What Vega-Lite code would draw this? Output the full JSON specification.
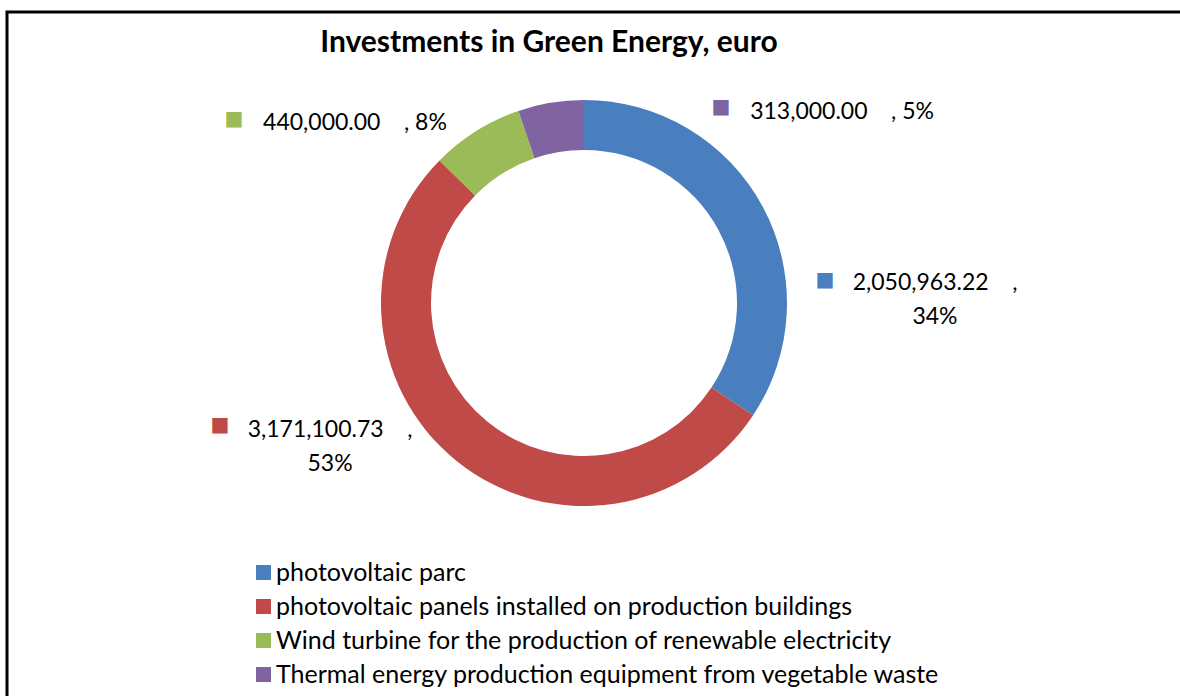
{
  "$schema": "https://vega.github.io/schema/vega-lite/v6.json",
  "width": 1177,
  "height": 688,
  "autosize": "none",
  "padding": {"left": 7, "top": 12, "right": -4, "bottom": -4},
  "background": "white",
  "data": {
    "values": [
      {"idx": 1, "category": "\u00a0\u00a0photovoltaic parc", "amount": 2050963.22, "label": "2,050,963.22\u00a0\u00a0\u00a0\u00a0,\n34%"},
      {"idx": 2, "category": "\u00a0\u00a0photovoltaic panels installed on production buildings", "amount": 3171100.73, "label": "3,171,100.73\u00a0\u00a0\u00a0\u00a0,\n53%"},
      {"idx": 3, "category": "Wind turbine for the production of renewable electricity", "amount": 440000.00, "label": "440,000.00\u00a0\u00a0\u00a0\u00a0, 8%"},
      {"idx": 4, "category": "Thermal energy production equipment from vegetable waste", "amount": 313000.00, "label": "313,000.00\u00a0\u00a0\u00a0\u00a0, 5%"}
    ]
  },
  "layer": [
    {
      "data": {"values": [{"frame": 1}]},
      "mark": {"type": "rect", "fill": null, "stroke": "black", "strokeWidth": 3},
      "encoding": {}
    },
    {
      "data": {"values": [{"title": "Investments in Green Energy, euro"}]},
      "mark": {"type": "text", "font": "Lato", "fontSize": 30, "fontWeight": "bold", "color": "black", "align": "center", "baseline": "alphabetic", "dx": -46.5, "dy": -304},
      "encoding": {"text": {"field": "title", "type": "nominal"}}
    },
    {
      "mark": {"type": "arc", "outerRadius": 203, "innerRadius": 153, "xOffset": -11.5, "yOffset": -53},
      "encoding": {
        "theta": {"field": "amount", "type": "quantitative", "stack": true},
        "order": {"field": "idx", "type": "quantitative"},
        "color": {
          "field": "category",
          "type": "nominal",
          "sort": null,
          "scale": {
            "domain": ["\u00a0\u00a0photovoltaic parc", "\u00a0\u00a0photovoltaic panels installed on production buildings", "Wind turbine for the production of renewable electricity", "Thermal energy production equipment from vegetable waste"],
            "range": ["#4a7fbf", "#bf4a47", "#9bbb59", "#8064a2"]
          },
          "legend": {"symbolType": "square"}
        }
      }
    },
    {
      "mark": {"type": "text", "font": "Lato", "fontSize": 23, "color": "black", "radius": 250, "lineBreak": "\n", "lineHeight": 34, "align": "center", "baseline": "middle", "xOffset": -11.5, "yOffset": -53, "dx": 130.7, "dy": 98},
      "encoding": {
        "theta": {"field": "amount", "type": "quantitative", "stack": true},
        "order": {"field": "idx", "type": "quantitative"},
        "text": {"condition": {"test": "datum.idx === 1", "field": "label"}, "value": ""}
      }
    },
    {
      "mark": {"type": "text", "font": "Lato", "fontSize": 23, "color": "black", "radius": 250, "lineBreak": "\n", "lineHeight": 34, "align": "center", "baseline": "middle", "xOffset": -11.5, "yOffset": -53, "dx": -96.3, "dy": -67.5},
      "encoding": {
        "theta": {"field": "amount", "type": "quantitative", "stack": true},
        "order": {"field": "idx", "type": "quantitative"},
        "text": {"condition": {"test": "datum.idx === 2", "field": "label"}, "value": ""}
      }
    },
    {
      "mark": {"type": "text", "font": "Lato", "fontSize": 23, "color": "black", "radius": 250, "lineBreak": "\n", "lineHeight": 34, "align": "center", "baseline": "middle", "xOffset": -11.5, "yOffset": -53, "dx": -96.1, "dy": 31.5},
      "encoding": {
        "theta": {"field": "amount", "type": "quantitative", "stack": true},
        "order": {"field": "idx", "type": "quantitative"},
        "text": {"condition": {"test": "datum.idx === 3", "field": "label"}, "value": ""}
      }
    },
    {
      "mark": {"type": "text", "font": "Lato", "fontSize": 23, "color": "black", "radius": 250, "lineBreak": "\n", "lineHeight": 34, "align": "center", "baseline": "middle", "xOffset": -11.5, "yOffset": -53, "dx": 299, "dy": 55.5},
      "encoding": {
        "theta": {"field": "amount", "type": "quantitative", "stack": true},
        "order": {"field": "idx", "type": "quantitative"},
        "text": {"condition": {"test": "datum.idx === 4", "field": "label"}, "value": ""}
      }
    },
    {
      "mark": {"type": "text", "font": "DejaVu Sans", "fontSize": 20, "radius": 250, "align": "center", "baseline": "middle", "xOffset": -11.5, "yOffset": -53, "dx": 20.7, "dy": 95.1},
      "encoding": {
        "theta": {"field": "amount", "type": "quantitative", "stack": true},
        "order": {"field": "idx", "type": "quantitative"},
        "color": {"field": "category", "type": "nominal", "sort": null},
        "text": {"condition": {"test": "datum.idx === 1", "value": "\u25a0"}, "value": ""}
      }
    },
    {
      "mark": {"type": "text", "font": "DejaVu Sans", "fontSize": 20, "radius": 250, "align": "center", "baseline": "middle", "xOffset": -11.5, "yOffset": -53, "dx": -206.3, "dy": -72},
      "encoding": {
        "theta": {"field": "amount", "type": "quantitative", "stack": true},
        "order": {"field": "idx", "type": "quantitative"},
        "color": {"field": "category", "type": "nominal", "sort": null},
        "text": {"condition": {"test": "datum.idx === 2", "value": "\u25a0"}, "value": ""}
      }
    },
    {
      "mark": {"type": "text", "font": "DejaVu Sans", "fontSize": 20, "radius": 250, "align": "center", "baseline": "middle", "xOffset": -11.5, "yOffset": -53, "dx": -217.1, "dy": 27.8},
      "encoding": {
        "theta": {"field": "amount", "type": "quantitative", "stack": true},
        "order": {"field": "idx", "type": "quantitative"},
        "color": {"field": "category", "type": "nominal", "sort": null},
        "text": {"condition": {"test": "datum.idx === 3", "value": "\u25a0"}, "value": ""}
      }
    },
    {
      "mark": {"type": "text", "font": "DejaVu Sans", "fontSize": 20, "radius": 250, "align": "center", "baseline": "middle", "xOffset": -11.5, "yOffset": -53, "dx": 178, "dy": 50.6},
      "encoding": {
        "theta": {"field": "amount", "type": "quantitative", "stack": true},
        "order": {"field": "idx", "type": "quantitative"},
        "color": {"field": "category", "type": "nominal", "sort": null},
        "text": {"condition": {"test": "datum.idx === 4", "value": "\u25a0"}, "value": ""}
      }
    }
  ],
  "config": {
    "view": {"stroke": null},
    "legend": {
      "orient": "none",
      "legendX": 244,
      "legendY": 548,
      "title": null,
      "symbolType": "square",
      "symbolSize": 225,
      "symbolStrokeWidth": 0,
      "symbolOpacity": 1,
      "labelFont": "Lato",
      "labelFontSize": 25,
      "labelColor": "black",
      "labelLimit": 0,
      "labelOffset": 0,
      "rowPadding": 8,
      "padding": 0
    }
  }
}
